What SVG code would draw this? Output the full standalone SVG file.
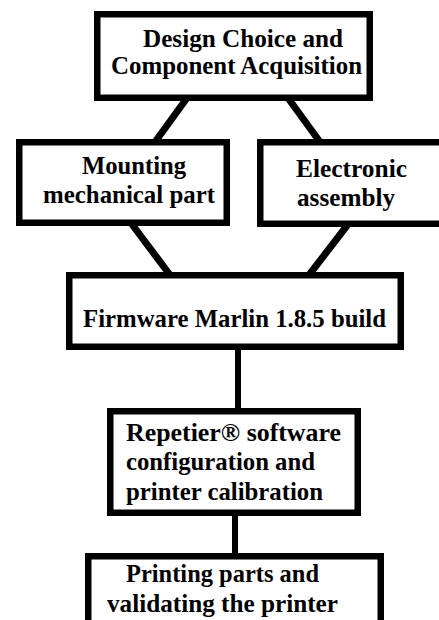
<svg xmlns="http://www.w3.org/2000/svg" width="439" height="620" viewBox="0 0 439 620">
<style>
.box{fill:#fff;stroke:#000;stroke-width:6.5}
.lbl{font-family:"Liberation Serif","Times New Roman",Times,Tinos,"Noto Serif","DejaVu Serif",FreeSerif,"Nimbus Roman",serif;font-weight:bold;font-size:24.5px;fill:#000}
.con{stroke:#000;stroke-width:7;fill:none}
.vcon{stroke:#000;stroke-width:6;fill:none}
</style>
<rect width="439" height="620" fill="#fff"/>
<g id="connectors">
<line class="con" x1="187" y1="98" x2="155" y2="142"/>
<line class="con" x1="288" y1="98" x2="320" y2="142"/>
<line class="con" x1="131" y1="223" x2="170" y2="275"/>
<line class="con" x1="349" y1="223" x2="309" y2="275"/>
<line class="vcon" x1="238" y1="347" x2="238" y2="411"/>
<line class="vcon" x1="235" y1="513" x2="235" y2="556"/>
</g>
<g id="design">
<rect class="box" x="97.25" y="14.25" width="272.5" height="83.5"/>
<text class="lbl" x="143" y="47" textLength="200" lengthAdjust="spacingAndGlyphs">Design Choice and</text>
<text class="lbl" x="111" y="74" textLength="251" lengthAdjust="spacingAndGlyphs">Component Acquisition</text>
</g>
<g id="mounting">
<rect class="box" x="19.25" y="142.25" width="207.5" height="80.5"/>
<text class="lbl" x="82" y="174" textLength="104" lengthAdjust="spacingAndGlyphs">Mounting</text>
<text class="lbl" x="43" y="203" textLength="172" lengthAdjust="spacingAndGlyphs">mechanical part</text>
</g>
<g id="electronic">
<rect class="box" x="260.25" y="142.25" width="200" height="81.5"/>
<text class="lbl" x="296" y="177" textLength="111" lengthAdjust="spacingAndGlyphs">Electronic</text>
<text class="lbl" x="297" y="206" textLength="98" lengthAdjust="spacingAndGlyphs">assembly</text>
</g>
<g id="firmware">
<rect class="box" x="69.25" y="275.25" width="331.5" height="71.5"/>
<text class="lbl" x="83" y="327" textLength="303" lengthAdjust="spacingAndGlyphs">Firmware Marlin 1.8.5 build</text>
</g>
<g id="repetier">
<rect class="box" x="110.25" y="411.25" width="247.5" height="101.5"/>
<text class="lbl" x="126" y="441" textLength="215" lengthAdjust="spacingAndGlyphs">Repetier® software</text>
<text class="lbl" x="126" y="470" textLength="189" lengthAdjust="spacingAndGlyphs">configuration and</text>
<text class="lbl" x="126" y="500" textLength="197" lengthAdjust="spacingAndGlyphs">printer calibration</text>
</g>
<g id="printing">
<rect class="box" x="88.25" y="556.25" width="292.5" height="100"/>
<text class="lbl" x="126" y="582" textLength="193" lengthAdjust="spacingAndGlyphs">Printing parts and</text>
<text class="lbl" x="107" y="612" textLength="231" lengthAdjust="spacingAndGlyphs">validating the printer</text>
</g>
</svg>
